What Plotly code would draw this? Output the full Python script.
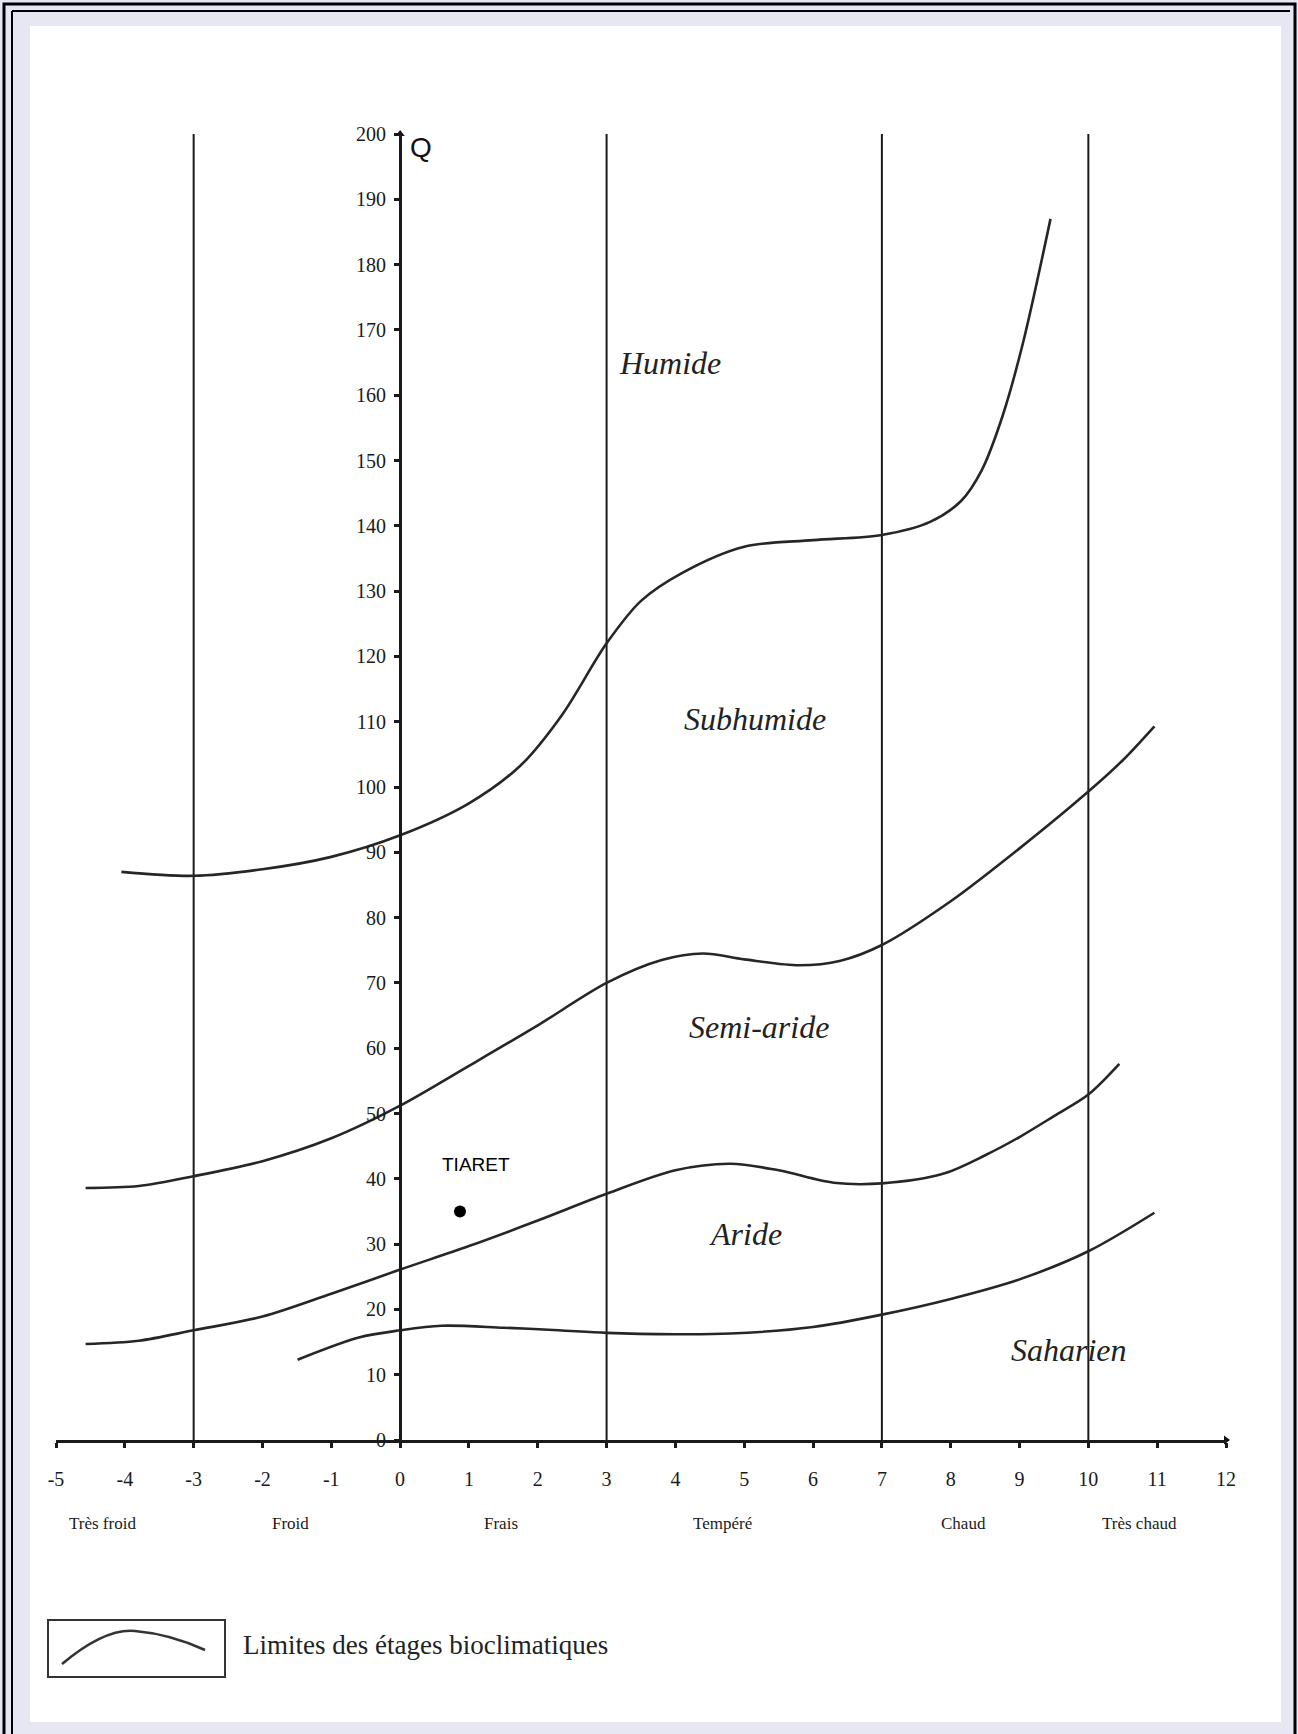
import plotly.graph_objects as go

# ---------------- data ----------------
x_ticks = list(range(-5, 13))
q_ticks = list(range(0, 201, 10))
boundary_x = [-3, 3, 7, 10]          # vertical limits of temperature classes
boundary_q = [0, 200]

humide_x = [-4.05, -3.0, -2.0, -1.0, 0.0, 1.0, 1.75, 2.35, 3.0, 3.5, 4.1, 5.0, 6.0, 7.0, 7.7, 8.15, 8.45, 8.75, 9.05, 9.45]
humide_q = [87.0, 86.4, 87.4, 89.3, 92.6, 97.5, 103.3, 111.0, 122.0, 128.5, 132.8, 136.8, 137.8, 138.6, 140.6, 143.8, 148.5, 156.7, 168.0, 187.0]

subhumide_x = [-4.57, -3.8, -3.0, -2.0, -1.0, 0.0, 1.0, 2.0, 3.0, 3.8, 4.4, 5.0, 5.8, 6.4, 7.0, 8.0, 9.0, 10.0, 10.5, 10.96]
subhumide_q = [38.6, 38.9, 40.4, 42.7, 46.2, 51.2, 57.3, 63.5, 70.0, 73.5, 74.5, 73.6, 72.7, 73.4, 75.8, 82.5, 90.6, 99.3, 104.1, 109.3]

semiaride_x = [-4.57, -3.8, -3.0, -2.0, -1.0, 0.0, 1.0, 2.0, 3.0, 4.0, 4.8, 5.5, 6.3, 7.0, 7.9, 8.5, 9.0, 9.5, 10.0, 10.45]
semiaride_q = [14.7, 15.2, 16.8, 18.9, 22.4, 26.1, 29.7, 33.6, 37.7, 41.3, 42.3, 41.3, 39.4, 39.3, 40.8, 43.6, 46.4, 49.6, 52.9, 57.6]

aride_x = [-1.49, -0.6, 0.0, 0.6, 1.5, 2.3, 3.0, 4.0, 4.8, 6.0, 7.0, 8.0, 9.0, 10.0, 10.96]
aride_q = [12.3, 15.7, 16.8, 17.5, 17.2, 16.8, 16.4, 16.2, 16.3, 17.3, 19.2, 21.6, 24.6, 28.9, 34.8]

station_name = "TIARET"
station_m = [0.87]
station_q = [35.0]

zone_names = ["Humide", "Subhumide", "Semi-aride", "Aride", "Saharien"]
zone_x = [3.92, 5.15, 5.22, 5.02, 9.72]
zone_q = [164.9, 110.4, 63.2, 31.6, 13.8]

class_names = ["Très froid", "Froid", "Frais", "Tempéré", "Chaud", "Très chaud"]
class_x = [-4.32, -1.6, 1.47, 4.68, 8.18, 10.75]

legend_text = "Limites des étages bioclimatiques"

# ---------------- geometry helpers (pixels -> paper) ----------------
W, H = 1298, 1734
L, R, T, B = 56, 72, 134, 294
PW, PH = W - L - R, H - T - B


def px(xp):
    return (xp - L) / PW


def py(yp):
    return (H - B - yp) / PH


SERIF = "Liberation Serif, Times New Roman, serif"
SANS = "Liberation Sans, Arial, sans-serif"
INK = "#262626"

fig = go.Figure()

# vertical class limits
vx, vy = [], []
for b in boundary_x:
    vx += [b, b, None]
    vy += [boundary_q[0], boundary_q[1], None]
fig.add_trace(go.Scatter(x=vx, y=vy, mode="lines", line=dict(color="#1a1a1a", width=2),
                         hoverinfo="skip", showlegend=False))

# bioclimatic limits
for cx, cq in [(humide_x, humide_q), (subhumide_x, subhumide_q),
               (semiaride_x, semiaride_q), (aride_x, aride_q)]:
    fig.add_trace(go.Scatter(x=cx, y=cq, mode="lines",
                             line=dict(color=INK, width=2.6, shape="spline", smoothing=0.9),
                             showlegend=False))

# axis arrows
fig.add_trace(go.Scatter(x=[0], y=[200], mode="markers", cliponaxis=False,
                         marker=dict(symbol="triangle-up", size=8, color="#111"),
                         showlegend=False, hoverinfo="skip"))
fig.add_trace(go.Scatter(x=[12], y=[0], mode="markers", cliponaxis=False,
                         marker=dict(symbol="triangle-right", size=8, color="#111"),
                         showlegend=False, hoverinfo="skip"))

# station
fig.add_trace(go.Scatter(x=station_m, y=station_q, mode="markers",
                         marker=dict(size=12, color="black"), showlegend=False))

annotations = []
annotations.append(dict(x=station_m[0] + 0.23, y=station_q[0] + 7.2, xref="x", yref="y",
                        text=station_name, showarrow=False,
                        font=dict(family=SANS, size=19, color="#000")))
for name, zx, zq in zip(zone_names, zone_x, zone_q):
    annotations.append(dict(x=zx, y=zq, xref="x", yref="y", text=f"<i>{name}</i>",
                            showarrow=False, font=dict(family=SERIF, size=32, color="#222")))
for name, cx in zip(class_names, class_x):
    annotations.append(dict(x=cx, y=py(1523), xref="x", yref="paper", text=name, showarrow=False,
                            yanchor="middle",
                            font=dict(family=SERIF, size=17, color="#1a1a1a")))
annotations.append(dict(x=0.3, y=198, xref="x", yref="y", text="Q", showarrow=False,
                        font=dict(family=SANS, size=28, color="#111")))
annotations.append(dict(x=px(241), y=py(1645), xref="paper", yref="paper", text=legend_text,
                        xanchor="left", yanchor="middle", showarrow=False,
                        font=dict(family=SERIF, size=27, color="#222")))

shapes = []
# white page inside a lavender band
shapes.append(dict(type="rect", xref="paper", yref="paper", layer="below",
                   x0=px(30), x1=px(1281), y0=py(1722), y1=py(26),
                   fillcolor="white", line=dict(width=0)))
# black borders
shapes.append(dict(type="rect", xref="paper", yref="paper", layer="above",
                   x0=px(4), x1=px(1295), y0=py(1740), y1=py(4),
                   line=dict(color="black", width=3)))
shapes.append(dict(type="line", xref="paper", yref="paper", layer="above",
                   x0=px(12), x1=px(12), y0=py(1740), y1=py(11),
                   line=dict(color="black", width=2)))
shapes.append(dict(type="line", xref="paper", yref="paper", layer="above",
                   x0=px(12), x1=px(1290), y0=py(11), y1=py(11),
                   line=dict(color="black", width=2)))
# legend box
shapes.append(dict(type="rect", xref="paper", yref="paper",
                   x0=px(48), x1=px(225), y0=py(1677), y1=py(1620),
                   line=dict(color="#333", width=2)))
path = (f"M {px(62)},{py(1664)} Q {px(105)},{py(1628)} {px(135)},{py(1631)} "
        f"Q {px(170)},{py(1634)} {px(205)},{py(1650)}")
shapes.append(dict(type="path", xref="paper", yref="paper", path=path,
                   line=dict(color="#333", width=2.5)))

fig.update_layout(
    width=W, height=H, autosize=False,
    margin=dict(l=L, r=R, t=T, b=B, pad=0),
    paper_bgcolor="#e6e7f3", plot_bgcolor="rgba(0,0,0,0)",
    showlegend=False,
    annotations=annotations, shapes=shapes,
    xaxis=dict(range=[-5, 12], showgrid=False, zeroline=False,
               showline=True, linecolor="#1a1a1a", linewidth=3,
               ticks="outside", ticklen=5, tickwidth=3, tickcolor="#1a1a1a",
               tickvals=x_ticks, ticktext=[str(v) for v in x_ticks],
               ticklabelstandoff=14,
               tickfont=dict(family=SERIF, size=20, color="#1a1a1a")),
    yaxis=dict(range=[0, 200], showgrid=False, zeroline=False,
               anchor="free", position=5 / 17,
               showline=True, linecolor="#1a1a1a", linewidth=3,
               ticks="outside", ticklen=5, tickwidth=3, tickcolor="#1a1a1a",
               tickvals=q_ticks, ticktext=[str(v) for v in q_ticks],
               ticklabelstandoff=4,
               tickfont=dict(family=SERIF, size=20, color="#1a1a1a")),
)

fig.write_html("out.html", config={"displayModeBar": False},
               post_script="document.body.style.margin='0';document.body.style.overflow='hidden';")
